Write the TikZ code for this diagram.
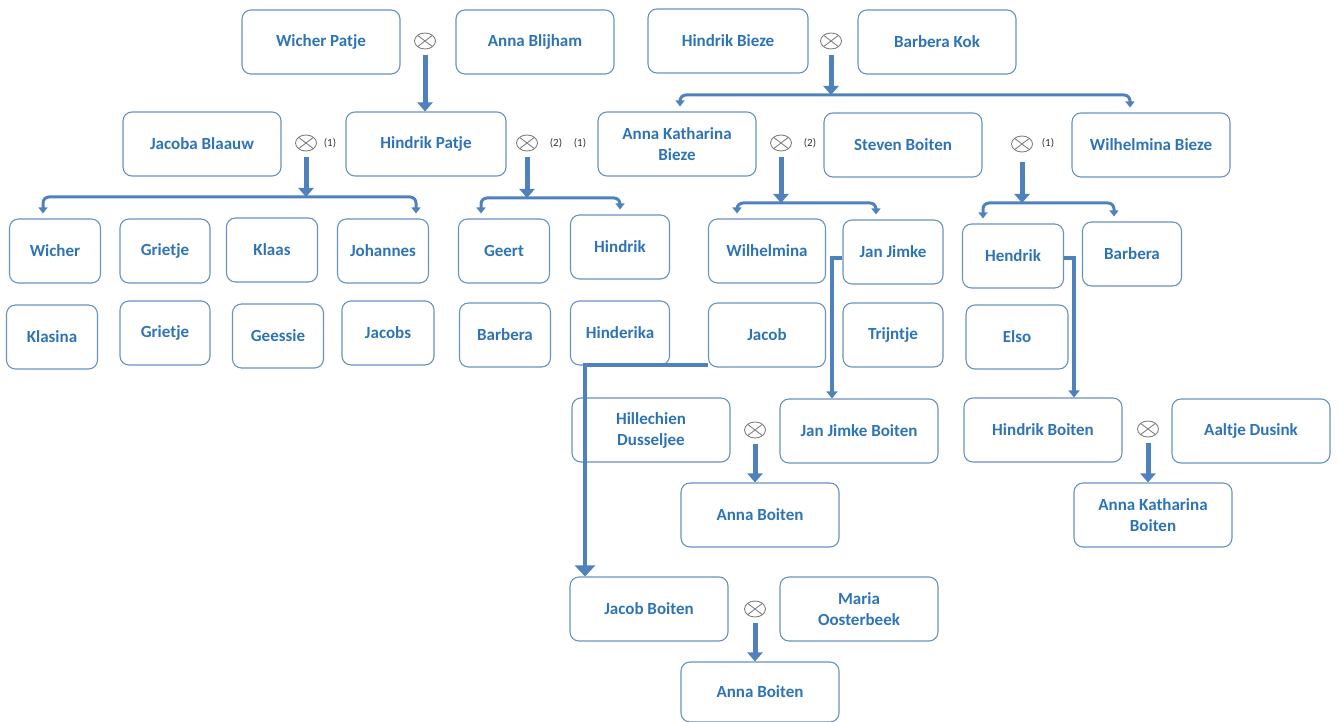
\documentclass[tikz,border=0pt]{standalone}
\usepackage{fontspec}
\setmainfont{Carlito}
\usetikzlibrary{arrows.meta,shapes.geometric}
\definecolor{boxline}{RGB}{104,146,194}
\definecolor{name}{RGB}{46,116,181}
\definecolor{link}{RGB}{79,129,189}
\tikzset{
  person/.style={draw=boxline, line width=1.1pt, rounded corners=9pt, minimum width=158, minimum height=64,
    font=\bfseries\fontsize{17}{21}\selectfont, text=name, align=center, inner sep=2pt},
  kid/.style={person, minimum width=91},
  wed/.style={ellipse, draw=gray, line width=0.9pt, minimum width=21, minimum height=16, inner sep=0pt,
    path picture={\draw[gray, line width=0.9pt] (path picture bounding box.north west)--(path picture bounding box.south east)
      (path picture bounding box.south west)--(path picture bounding box.north east);}},
  tag/.style={font=\fontsize{11}{13}\selectfont, text=black!80},
  drop/.style={draw=link, line width=5pt, shorten <=6pt, -{Triangle[width=15pt,length=9pt]}},
  branch/.style={draw=link, line width=3pt, rounded corners=6pt, shorten >=5pt, -{Triangle[width=9pt,length=6pt]}},
  lineage/.style={draw=link, line width=4pt, -{Triangle[width=11pt,length=7pt]}}
}
\begin{document}
\begin{tikzpicture}[x=1pt,y=-1pt]
\useasboundingbox (0,0) rectangle (1338,722);
% grandparents
\node[person] (wpatje) at (321,42) {Wicher Patje};
\node[wed] (w1) at (425,41) {};
\node[person] (ablijham) at (535,42) {Anna Blijham};
\node[person, minimum width=160] (hbieze) at (728,41) {Hindrik Bieze};
\node[wed] (w2) at (831,41) {};
\node[person] (bkok) at (937,42) {Barbera Kok};
% parents
\node[person] (jblaauw) at (202,144) {Jacoba Blaauw};
\node[wed] (w3) at (306,143) {};\node[tag] at (330,143) {(1)};
\node[person, minimum width=160] (hpatje) at (426,144) {Hindrik Patje};
\node[wed] (w4) at (527,143) {};\node[tag] at (556,143) {(2)};\node[tag] at (580,143) {(1)};
\node[person] (akbieze) at (677,144) {Anna Katharina\\Bieze};
\node[wed] (w5) at (781,143) {};\node[tag] at (810,143) {(2)};
\node[person] (sboiten) at (903,145) {Steven Boiten};
\node[wed] (w6) at (1022,144) {};\node[tag] at (1048,143) {(1)};
\node[person] (wbieze) at (1151,145) {Wilhelmina Bieze};
% children
\node[kid] (wicher) at (55,251) {Wicher};
\node[kid, minimum width=90] (grietje) at (165,251) {Grietje};
\node[kid] (klaas) at (272,250) {Klaas};
\node[kid] (johannes) at (383,251) {Johannes};
\node[kid] (geert) at (504,251) {Geert};
\node[kid, minimum width=99] (hindrik) at (620,247) {Hindrik};
\node[kid, minimum width=117] (wilhelmina) at (767,251) {Wilhelmina};
\node[kid, minimum width=100] (janjimke) at (893,252) {Jan Jimke};
\node[kid, minimum width=101] (hendrik) at (1013,256) {Hendrik};
\node[kid, minimum width=99] (barbera) at (1132,254) {Barbera};
\node[kid] (klasina) at (52,337) {Klasina};
\node[kid, minimum width=90] (grietjeb) at (165,333) {Grietje};
\node[kid] (geessie) at (278,336) {Geessie};
\node[kid, minimum width=92] (jacobs) at (388,333) {Jacobs};
\node[kid] (barberab) at (505,335) {Barbera};
\node[kid, minimum width=99] (hinderika) at (620,333) {Hinderika};
\node[kid, minimum width=117] (jacob) at (767,335) {Jacob};
\node[kid, minimum width=100] (trijntje) at (893,335) {Trijntje};
\node[kid, minimum width=102] (elso) at (1017,337) {Elso};
% next generations
\node[person] (hdusseljee) at (651,430) {Hillechien\\Dusseljee};
\node[wed] (w7) at (755,430) {};
\node[person] (jjboiten) at (859,431) {Jan Jimke Boiten};
\node[person] (hboiten) at (1043,430) {Hindrik Boiten};
\node[wed] (w8) at (1148,429) {};
\node[person] (adusink) at (1251,431) {Aaltje Dusink};
\node[person] (aboiten) at (760,515) {Anna Boiten};
\node[person] (akboiten) at (1153,515) {Anna Katharina\\Boiten};
\node[person] (jboiten) at (649,609) {Jacob Boiten};
\node[wed] (w9) at (755,609) {};
\node[person] (moosterbeek) at (859,609) {Maria\\Oosterbeek};
\node[person, minimum height=60] (aboitenb) at (760,692) {Anna Boiten};
% junctions
\coordinate (j2) at (831,95);
\coordinate (j3) at (306,197);
\coordinate (j4) at (527,198);
\coordinate (j5) at (781,203);
\coordinate (j6) at (1022,203);
% connectors
\draw[drop] (w1) -- (w1 |- hpatje.north);
\draw[drop] (w2) -- (j2);
\draw[branch] (j2) -| ([xshift=3]akbieze.north);
\draw[branch] (j2) -| ([xshift=-21]wbieze.north);
\draw[drop] (w3) -- (j3);
\draw[branch] (j3) -| ([xshift=-12]wicher.north);
\draw[branch] (j3) -| ([xshift=33]johannes.north);
\draw[drop] (w4) -- (j4);
\draw[branch] (j4) -| ([xshift=-23]geert.north);
\draw[branch] (j4) -| (hindrik.north);
\draw[drop] (w5) -- (j5);
\draw[branch] (j5) -| ([xshift=-30]wilhelmina.north);
\draw[branch] (j5) -| ([xshift=-17]janjimke.north);
\draw[drop, shorten <=10pt] (w6) -- (j6);
\draw[branch] (j6) -| ([xshift=-30]hendrik.north);
\draw[branch] (j6) -| ([xshift=-18]barbera.north);
\draw[lineage, -{Triangle[width=20pt,length=11pt]}] ([yshift=3]jacob.south west) -| ([xshift=-64]jboiten.north);
\draw[lineage] ([yshift=-6]janjimke.west) -| ([xshift=-27]jjboiten.north);
\draw[lineage] ([yshift=-2]hendrik.east) -| ([xshift=31]hboiten.north);
\draw[drop] (w7) -- (w7 |- aboiten.north);
\draw[drop] (w8) -- (w8 |- akboiten.north);
\draw[drop] (w9) -- (w9 |- aboitenb.north);
\end{tikzpicture}
\end{document}
